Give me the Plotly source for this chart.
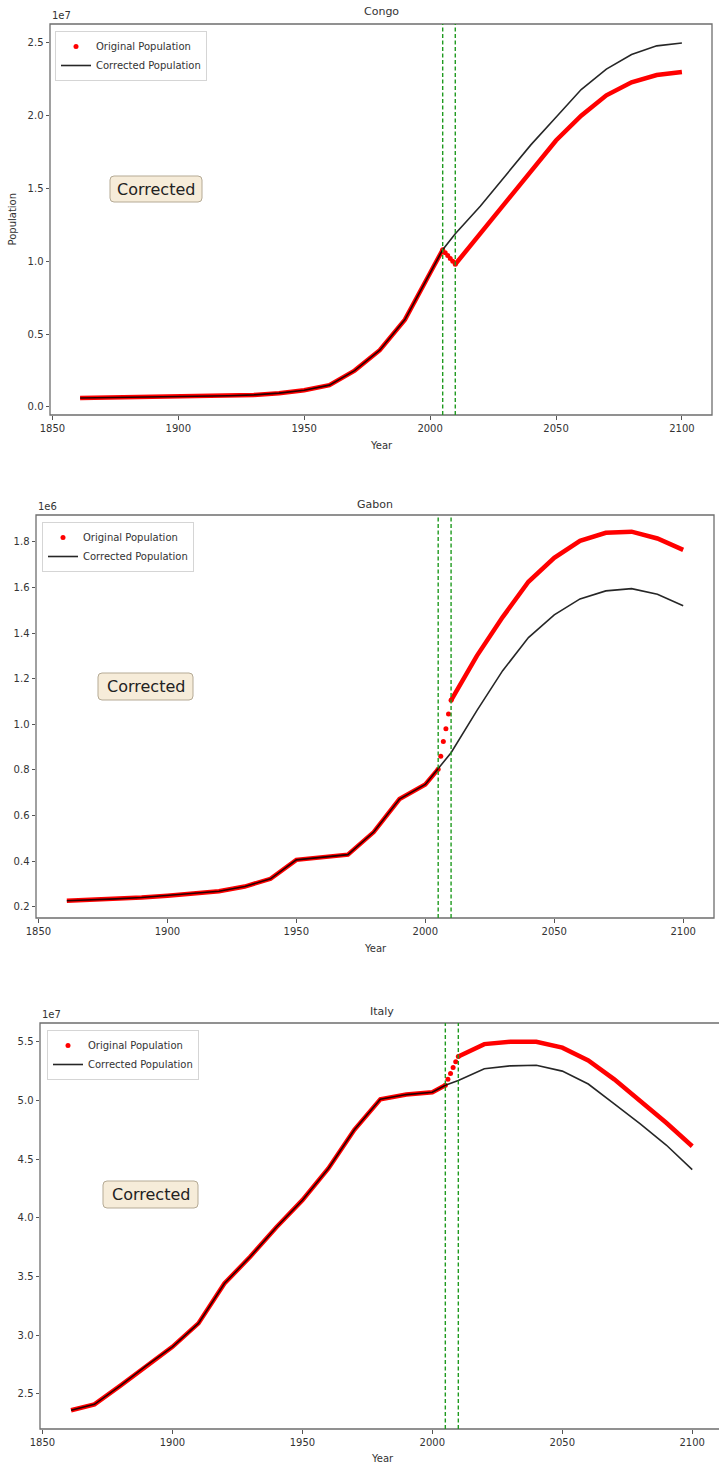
import plotly.graph_objects as go

W, H = 719, 1467

# ---------------- data ----------------
years_orig = [1861, 1870, 1880, 1890, 1900, 1910, 1920, 1930, 1940, 1950, 1960, 1970, 1980, 1990, 2000,
              2005, 2006, 2007, 2008, 2009, 2010, 2020, 2030, 2040, 2050, 2060, 2070, 2080, 2090, 2100]
years_corr = [1861, 1870, 1880, 1890, 1900, 1910, 1920, 1930, 1940, 1950, 1960, 1970, 1980, 1990, 2000,
              2005, 2010, 2020, 2030, 2040, 2050, 2060, 2070, 2080, 2090, 2100]

congo_orig = [620e3, 640e3, 660e3, 680e3, 700e3, 730e3, 770e3, 830e3, 950e3, 1.15e6, 1.50e6, 2.50e6, 3.90e6,
              6.00e6, 9.20e6, 10.8e6, 10.6e6, 10.4e6, 10.2e6, 10.0e6, 9.80e6, 11.9e6, 14.1e6, 16.2e6,
              18.3e6, 20.0e6, 21.4e6, 22.3e6, 22.8e6, 23.0e6]
congo_corr = [620e3, 640e3, 660e3, 680e3, 700e3, 730e3, 770e3, 830e3, 950e3, 1.15e6, 1.50e6, 2.50e6, 3.90e6,
              6.00e6, 9.20e6, 10.8e6, 11.9e6, 13.8e6, 15.9e6, 18.0e6, 19.9e6, 21.8e6, 23.2e6, 24.2e6,
              24.8e6, 25.0e6]

gabon_orig = [226e3, 229e3, 234e3, 240e3, 248e3, 256e3, 267e3, 288e3, 322e3, 405e3, 418e3, 428e3, 527e3,
              672e3, 736e3, 803e3, 860e3, 924e3, 980e3, 1045e3, 1105e3, 1300e3, 1470e3, 1625e3,
              1730e3, 1805e3, 1840e3, 1845e3, 1815e3, 1765e3]
gabon_corr = [226e3, 229e3, 234e3, 240e3, 248e3, 256e3, 267e3, 288e3, 322e3, 405e3, 418e3, 428e3, 527e3,
              672e3, 736e3, 803e3, 875e3, 1060e3, 1235e3, 1380e3, 1480e3, 1550e3, 1585e3, 1595e3,
              1570e3, 1520e3]

italy_orig = [23.6e6, 24.1e6, 25.7e6, 27.4e6, 29.0e6, 31.0e6, 34.4e6, 36.7e6, 39.2e6, 41.5e6, 44.2e6,
              47.5e6, 50.1e6, 50.5e6, 50.7e6, 51.3e6, 51.8e6, 52.3e6, 52.8e6, 53.3e6, 53.75e6, 54.8e6,
              55.0e6, 55.0e6, 54.5e6, 53.4e6, 51.8e6, 50.0e6, 48.1e6, 46.1e6]
italy_corr = [23.6e6, 24.1e6, 25.7e6, 27.4e6, 29.0e6, 31.0e6, 34.4e6, 36.7e6, 39.2e6, 41.5e6, 44.2e6,
              47.5e6, 50.1e6, 50.5e6, 50.7e6, 51.3e6, 51.7e6, 52.7e6, 52.95e6, 53.0e6, 52.5e6, 51.4e6,
              49.7e6, 48.0e6, 46.2e6, 44.1e6]

correction_start, correction_end = 2005, 2010

x_tickvals = [1850, 1900, 1950, 2000, 2050, 2100]
x_ticktext = ["1850", "1900", "1950", "2000", "2050", "2100"]

congo_tickvals = [0, 5e6, 10e6, 15e6, 20e6, 25e6]
congo_ticktext = ["0.0", "0.5", "1.0", "1.5", "2.0", "2.5"]
gabon_tickvals = [0.2e6, 0.4e6, 0.6e6, 0.8e6, 1.0e6, 1.2e6, 1.4e6, 1.6e6, 1.8e6]
gabon_ticktext = ["0.2", "0.4", "0.6", "0.8", "1.0", "1.2", "1.4", "1.6", "1.8"]
italy_tickvals = [25e6, 30e6, 35e6, 40e6, 45e6, 50e6, 55e6]
italy_ticktext = ["2.5", "3.0", "3.5", "4.0", "4.5", "5.0", "5.5"]

# ---------------- layout geometry (pixels) ----------------
panels = [
    dict(name="Congo", orig=congo_orig, corr=congo_corr, tv=congo_tickvals, tt=congo_ticktext, exp="1e7",
         box=(50, 24, 712, 415), xr=[1849.05, 2111.95], yr=[-0.55e6, 26.3e6],
         title_y=11, year_y=445, corr_box=(110, 176, 202, 202), legend=(55, 31), ylabel=True),
    dict(name="Gabon", orig=gabon_orig, corr=gabon_corr, tv=gabon_tickvals, tt=gabon_ticktext, exp="1e6",
         box=(36, 515, 714, 918), xr=[1849.05, 2111.95], yr=[0.15e6, 1.918e6],
         title_y=504, year_y=948, corr_box=(98, 673, 193, 700), legend=(42, 522), ylabel=False),
    dict(name="Italy", orig=italy_orig, corr=italy_corr, tv=italy_tickvals, tt=italy_ticktext, exp="1e7",
         box=(40, 1023, 724, 1429), xr=[1849.05, 2110.3], yr=[22.0e6, 56.6e6],
         title_y=1011, year_y=1458, corr_box=(103, 1181, 198, 1208), legend=(47, 1030), ylabel=False),
]

FONT = "DejaVu Sans"
TXT = "#333333"


def px(x):
    return x / W


def py(y):
    return 1 - y / H


def rounded_path(x0, y0, x1, y1, r):
    # pixel coords -> paper-coordinate SVG path with rounded corners
    rx, ry = r / W, r / H
    X0, X1 = px(x0), px(x1)
    Y0, Y1 = py(y0), py(y1)  # Y0 top, Y1 bottom
    return (f"M {X0+rx},{Y0} L {X1-rx},{Y0} Q {X1},{Y0} {X1},{Y0-ry} "
            f"L {X1},{Y1+ry} Q {X1},{Y1} {X1-rx},{Y1} L {X0+rx},{Y1} "
            f"Q {X0},{Y1} {X0},{Y1+ry} L {X0},{Y0-ry} Q {X0},{Y0} {X0+rx},{Y0} Z")


fig = go.Figure()
layout = dict(width=W, height=H, margin=dict(l=0, r=0, t=0, b=0, autoexpand=False), autosize=False,
              paper_bgcolor="white", plot_bgcolor="white", font=dict(family=FONT, size=10, color=TXT),
              showlegend=True)
shapes, annotations = [], []

for i, p in enumerate(panels, start=1):
    xa = "x" if i == 1 else f"x{i}"
    ya = "y" if i == 1 else f"y{i}"
    lg = "legend" if i == 1 else f"legend{i}"
    x0, y0, x1, y1 = p["box"]

    # original population: thick line (gap over the correction window) + dots
    line_y = [v if (yr <= correction_start or yr >= correction_end) else None
              for yr, v in zip(years_orig, p["orig"])]
    fig.add_trace(go.Scatter(x=years_orig, y=line_y, mode="lines", xaxis=xa, yaxis=ya,
                             line=dict(color="red", width=4.5), connectgaps=False,
                             showlegend=False, hoverinfo="skip", legend=lg))
    dot_x = [yr for yr in years_orig if correction_start <= yr <= correction_end]
    dot_y = [v for yr, v in zip(years_orig, p["orig"]) if correction_start <= yr <= correction_end]
    fig.add_trace(go.Scatter(x=dot_x, y=dot_y, mode="markers", xaxis=xa, yaxis=ya,
                             marker=dict(color="red", size=5, line=dict(width=0)),
                             name="Original Population", legend=lg))
    fig.add_trace(go.Scatter(x=years_corr, y=p["corr"], mode="lines", xaxis=xa, yaxis=ya,
                             line=dict(color="rgba(0,0,0,0.85)", width=1.6),
                             name="Corrected Population", legend=lg))

    dom_x = [px(x0), min(px(x1), 1.0)]
    dom_y = [py(y1), py(y0)]
    axis_common = dict(showgrid=False, zeroline=False, showline=False, ticks="outside", ticklen=3.5,
                       tickwidth=1, tickcolor="#555555", automargin=False,
                       tickfont=dict(family=FONT, size=10, color=TXT))
    layout["xaxis" if i == 1 else f"xaxis{i}"] = dict(
        domain=dom_x, anchor=ya, range=p["xr"], tickvals=x_tickvals, ticktext=x_ticktext, **axis_common)
    layout["yaxis" if i == 1 else f"yaxis{i}"] = dict(
        domain=dom_y, anchor=xa, range=p["yr"], tickvals=p["tv"], ticktext=p["tt"], **axis_common)

    # frame
    shapes.append(dict(type="rect", xref="paper", yref="paper", x0=px(x0), x1=px(x1), y0=py(y1), y1=py(y0),
                       line=dict(color="#6e6e6e", width=1.3), fillcolor="rgba(0,0,0,0)", layer="above"))
    # correction window lines
    for yr in (correction_start, correction_end):
        shapes.append(dict(type="line", xref=xa, yref=f"{ya} domain", x0=yr, x1=yr, y0=0, y1=1,
                           line=dict(color="#1f9a1f", width=1.4, dash="4px,2.5px"), layer="above"))
    # "Corrected" box
    bx0, by0, bx1, by1 = p["corr_box"]
    shapes.append(dict(type="path", xref="paper", yref="paper", path=rounded_path(bx0, by0, bx1, by1, 4),
                       fillcolor="#f6ecd9", line=dict(color="#b5aa95", width=1), layer="above"))
    annotations.append(dict(text="Corrected", xref="paper", yref="paper", x=px((bx0 + bx1) / 2),
                            y=py((by0 + by1) / 2), xanchor="center", yanchor="middle", showarrow=False,
                            font=dict(family=FONT, size=16, color="#222222")))
    # title
    annotations.append(dict(text=p["name"], xref="paper", yref="paper", x=px((x0 + x1) / 2), y=py(p["title_y"]),
                            xanchor="center", yanchor="middle", showarrow=False,
                            font=dict(family=FONT, size=11, color=TXT)))
    # exponent
    annotations.append(dict(text=p["exp"], xref="paper", yref="paper", x=px(x0), y=py(y0 - 1),
                            xanchor="left", yanchor="bottom", showarrow=False,
                            font=dict(family=FONT, size=10, color=TXT)))
    # x label
    annotations.append(dict(text="Year", xref="paper", yref="paper", x=px((x0 + min(x1, 719)) / 2 + (3 if i == 3 else 0)),
                            y=py(p["year_y"]), xanchor="center", yanchor="middle", showarrow=False,
                            font=dict(family=FONT, size=10, color=TXT)))
    if p["ylabel"]:
        annotations.append(dict(text="Population", xref="paper", yref="paper", x=px(12), y=py((y0 + y1) / 2),
                                xanchor="center", yanchor="middle", showarrow=False, textangle=-90,
                                font=dict(family=FONT, size=10, color=TXT)))
    # legend
    lx, ly = p["legend"]
    layout[lg] = dict(x=px(lx), y=py(ly), xanchor="left", yanchor="top", bgcolor="white",
                      bordercolor="#d5d5d5", borderwidth=1, font=dict(family=FONT, size=10, color=TXT),
                      tracegroupgap=0)

layout["shapes"] = shapes
layout["annotations"] = annotations
fig.update_layout(**layout)
fig.write_html("out.html")
